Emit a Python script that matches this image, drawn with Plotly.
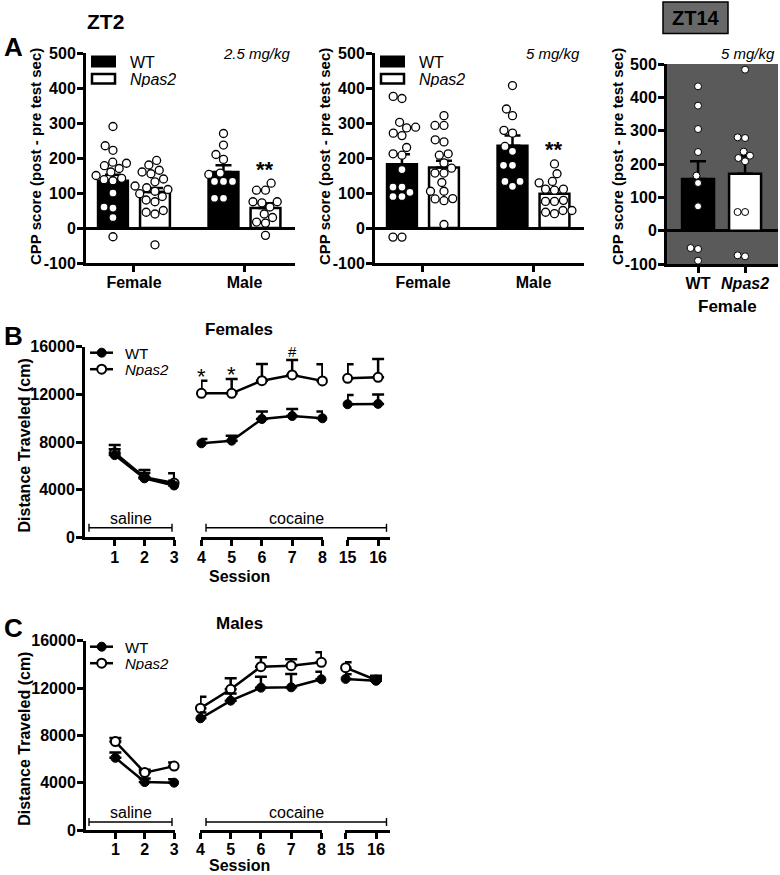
import plotly.graph_objects as go

FONT = "Liberation Sans, Arial, Helvetica, sans-serif"
W, H = 780, 875


def fx(p):
    return p / W


def fy(p):
    return 1 - p / H


# ======================= DATA =======================
cpp_groups = ["Female", "Male"]
zt14_groups = ["WT", "<i>Npas2</i>"]

# ZT2, 2.5 mg/kg  (means, SEM, individual points)
low_wt_mean = [135, 160]
low_wt_sem = [17, 19]
low_np_mean = [103, 57]
low_np_sem = [11, 14]
low_wt_female = [290, 235, 222, 188, 185, 178, 170, 160, 150, 142, 138, 135, 100, 60, 57, 30, -25]
low_np_female = [193, 180, 165, 160, 155, 140, 132, 120, 115, 110, 105, 98, 90, 80, 75, 50, 45, 40, -48]
low_wt_male = [270, 237, 210, 196, 157, 153, 133, 133, 133, 85, 85]
low_np_male = [128, 108, 108, 75, 75, 72, 60, 40, 30, 17, 14, -21]

# ZT2, 5 mg/kg
high_wt_mean = [182, 235]
high_wt_sem = [29, 29]
high_np_mean = [173, 98]
high_np_sem = [19, 13]
high_wt_female = [376, 370, 302, 288, 286, 271, 264, 230, 212, 208, 167, 117, 117, 102, 90, 90, -26, -26]
high_np_female = [321, 293, 293, 252, 246, 212, 208, 186, 171, 157, 157, 130, 105, 105, 84, 83, 78, 10]
high_wt_male = [407, 340, 321, 279, 271, 233, 219, 179, 179, 133, 133, 119]
high_np_male = [183, 155, 133, 129, 111, 108, 111, 79, 76, 76, 50, 45, 50, 41]

# ZT14, 5 mg/kg, females
zt14_mean = [155, 171]
zt14_sem = [53, 52]
zt14_wt_pts = [433, 375, 305, 236, 165, 143, 73, -52, -55, -90]
zt14_np_pts = [483, 278, 280, 225, 237, 218, 208, 56, 56, -77, -74]

# Locomotion (distance traveled, cm)
session_blocks = [[1, 2, 3], [4, 5, 6, 7, 8], [15, 16]]
fem_wt_mean = [6900, 4950, 4350, 7890, 8110, 9930, 10180, 9990, 11170, 11200]
fem_wt_sem = [500, 450, 400, 360, 420, 620, 590, 560, 780, 790]
fem_np_mean = [7100, 5050, 4550, 12090, 12090, 13150, 13630, 13130, 13350, 13430]
fem_np_sem = [650, 600, 820, 1060, 1200, 1400, 1260, 1390, 1170, 1540]
mal_wt_mean = [6100, 4050, 4000, 9440, 10930, 12030, 12060, 12740, 12770, 12620]
mal_wt_sem = [440, 300, 300, 500, 600, 930, 1130, 640, 400, 250]
mal_np_mean = [7470, 4850, 5400, 10290, 11890, 13800, 13890, 14170, 13720, 12680]
mal_np_sem = [300, 250, 300, 980, 930, 800, 540, 850, 450, 350]

cpp_ticks = [-100, 0, 100, 200, 300, 400, 500]
dist_ticks = [0, 4000, 8000, 12000, 16000]

# ======================= HELPERS =======================
TICKFONT = dict(family=FONT, size=16, color="black", weight="bold")


def swarm(values, center, xscale, yscale, d):
    """Greedy beeswarm: returns x positions (data units) for dots."""
    placed = []
    xs = [0.0] * len(values)
    order = sorted(range(len(values)), key=lambda i: values[i])
    for i in order:
        y = values[i] * yscale
        cands = [0.0]
        for (px, py) in placed:
            dy = y - py
            if abs(dy) < d:
                dx = (d * d - dy * dy) ** 0.5
                cands += [px + dx, px - dx]
        cands.sort(key=lambda c: (abs(c), c))
        chosen = 0.0
        for c in cands:
            if all((c - px) ** 2 + (y - py) ** 2 >= d * d - 1e-6 for px, py in placed):
                chosen = c
                break
        placed.append((chosen, y))
        xs[i] = center + chosen / xscale
    return xs


def yaxis(top, bottom, rng, ticks, anchor, zero=False):
    return dict(domain=[fy(bottom), fy(top)], range=rng, tickvals=ticks,
                ticktext=[str(t) for t in ticks], anchor=anchor, automargin=False,
                showline=True, linewidth=3, linecolor="black", ticks="outside", ticklen=6,
                tickwidth=3, tickcolor="black", showgrid=False, zeroline=zero,
                zerolinecolor="black", zerolinewidth=3, tickfont=TICKFONT, fixedrange=True,
                ticklabelstandoff=-2)


def xaxis(left, right, rng, tickvals, ticktext, anchor):
    return dict(domain=[fx(left), fx(right)], range=rng, tickvals=tickvals, ticktext=ticktext,
                anchor=anchor, automargin=False, showline=True, linewidth=3, linecolor="black",
                ticks="outside", ticklen=6, tickwidth=3, tickcolor="black", showgrid=False,
                zeroline=False, tickfont=TICKFONT, fixedrange=True, ticklabelstandoff=-3)


fig = go.Figure()
annotations = []
shapes = []


def ann(text, x, y, size=15, bold=False, italic=False, angle=0, xanchor="center", **kw):
    d = dict(text=text, x=fx(x), y=fy(y), xref="paper", yref="paper", showarrow=False,
             xanchor=xanchor, yanchor="middle", textangle=angle,
             font=dict(family=FONT, size=size, color="black",
                       weight="bold" if bold else "normal",
                       style="italic" if italic else "normal"))
    d.update(kw)
    annotations.append(d)


# ======================= PANEL A (ZT2) =======================
A_TOP, A_BOT = 53, 263
A_RANGE = [-100, 500]
ax_rng = [-0.434, 1.457]
bar_off, bar_w = 0.19, 0.27

cpp_panels = [
    ("x", "y", 86, 295, low_wt_mean, low_wt_sem, low_np_mean, low_np_sem,
     [low_wt_female, low_wt_male], [low_np_female, low_np_male], "2.5 mg/kg"),
    ("x2", "y2", 375, 584, high_wt_mean, high_wt_sem, high_np_mean, high_np_sem,
     [high_wt_female, high_wt_male], [high_np_female, high_np_male], "5 mg/kg"),
]
layout_axes = {}
for i, (xa, ya, left, right, wm, ws, nm, ns, wpts, npts, dose) in enumerate(cpp_panels):
    xid = "xaxis" if i == 0 else "xaxis2"
    yid = "yaxis" if i == 0 else "yaxis2"
    layout_axes[xid] = xaxis(left, right, ax_rng, list(range(len(cpp_groups))), cpp_groups, ya)
    layout_axes[yid] = yaxis(A_TOP, A_BOT, A_RANGE, cpp_ticks, xa, zero=True)
    xscale = (right - left) / (ax_rng[1] - ax_rng[0])
    yscale = (A_BOT - A_TOP) / (A_RANGE[1] - A_RANGE[0])
    wx = [g - bar_off for g in range(len(cpp_groups))]
    nx = [g + bar_off for g in range(len(cpp_groups))]
    fig.add_trace(go.Bar(x=wx, y=wm, width=bar_w, xaxis=xa, yaxis=ya,
                         marker=dict(color="black", line=dict(color="black", width=2.5)),
                         error_y=dict(type="data", array=ws, arrayminus=[0] * len(ws), symmetric=False,
                                      color="black", thickness=2.5, width=8)))
    fig.add_trace(go.Bar(x=nx, y=nm, width=bar_w, xaxis=xa, yaxis=ya,
                         marker=dict(color="white", line=dict(color="black", width=2.5)),
                         error_y=dict(type="data", array=ns, arrayminus=[0] * len(ns), symmetric=False,
                                      color="black", thickness=2.5, width=8)))
    for g in range(len(cpp_groups)):
        for pts, cx in ((wpts[g], wx[g]), (npts[g], nx[g])):
            fig.add_trace(go.Scatter(x=swarm(pts, cx, xscale, yscale, 9.0), y=pts, mode="markers",
                                     xaxis=xa, yaxis=ya, cliponaxis=False,
                                     marker=dict(size=8, color="white", line=dict(color="black", width=1.3))))
    # significance above male Npas2
    annotations.append(dict(text="**", x=nx[1], y=max(npts[1]), xref=xa, yref=ya, showarrow=False,
                            yanchor="middle", yshift=14,
                            font=dict(family=FONT, size=22, color="black", weight="bold")))
    # legend
    lx = left + 6
    shapes.append(dict(type="rect", xref="paper", yref="paper", x0=fx(lx), x1=fx(lx + 23),
                       y0=fy(66.5), y1=fy(56.5), fillcolor="black", line=dict(color="black", width=2)))
    shapes.append(dict(type="rect", xref="paper", yref="paper", x0=fx(lx), x1=fx(lx + 23),
                       y0=fy(83.5), y1=fy(74), fillcolor="white", line=dict(color="black", width=2.5)))
    ann("WT", lx + 36, 61.5, size=16, xanchor="left", height=16)
    ann("Npas2", lx + 36, 79, size=16, italic=True, xanchor="left", height=16)
    ann(dose, right - 2, 53, size=15, italic=True, xanchor="right")
    ann("CPP score (post - pre test sec)", left - 51, 157, size=15, bold=True, angle=-90)

# ======================= PANEL A (ZT14) =======================
R_TOP, R_BOT = 64, 264
r_rng = [-0.66, 1.70]
r_left, r_right = 667, 778
layout_axes["xaxis3"] = xaxis(r_left, r_right, r_rng, [0, 1], zt14_groups, "y3")
layout_axes["yaxis3"] = yaxis(R_TOP, R_BOT, A_RANGE, cpp_ticks, "x3", zero=True)
shapes.append(dict(type="rect", xref="x3 domain", yref="y3 domain", x0=0, x1=1, y0=0, y1=1,
                   fillcolor="#5a5a5a", line=dict(width=0), layer="below"))
fig.add_trace(go.Bar(x=[0, 1], y=zt14_mean, width=0.68, xaxis="x3", yaxis="y3",
                     marker=dict(color=["black", "white"], line=dict(color="black", width=2.5)),
                     error_y=dict(type="data", array=zt14_sem, arrayminus=[0, 0], symmetric=False,
                                  color="black", thickness=2.5, width=8)))
r_xscale = (r_right - r_left) / (r_rng[1] - r_rng[0])
r_yscale = (R_BOT - R_TOP) / (A_RANGE[1] - A_RANGE[0])
for pts, cx in ((zt14_wt_pts, 0), (zt14_np_pts, 1)):
    fig.add_trace(go.Scatter(x=swarm(pts, cx, r_xscale, r_yscale, 7.5), y=pts, mode="markers",
                             xaxis="x3", yaxis="y3", cliponaxis=False,
                             marker=dict(size=7, color="white", line=dict(color="black", width=1))))
shapes.append(dict(type="rect", xref="paper", yref="paper", x0=fx(663), x1=fx(728), y0=fy(33.5), y1=fy(2),
                   fillcolor="#686868", line=dict(color="black", width=1.5)))
ann("ZT14", 695.5, 18, size=20, bold=True)
ann("5 mg/kg", 777, 53, size=15, italic=True, xanchor="right")
ann("CPP score (post - pre test sec)", 617, 157, size=15, bold=True, angle=-90)
ann("Female", 727, 306.5, size=17, bold=True)

ann("ZT2", 106, 21, size=21, bold=True)
ann("A", 14, 46.5, size=26, bold=True)

# ======================= PANELS B & C =======================
seg_specs_B = [(85, 175, [0.0, 3.03]), (201, 323, [3.985, 8.02]), (347, 390, [14.98, 16.39])]
seg_specs_C = [(86, 175, [0.0, 3.03]), (200, 322, [3.985, 8.02]), (345, 390, [14.98, 16.46])]

loco_panels = [
    ("B", "Females", 346.7, 537.3, [4, 5, 6], "y4", seg_specs_B, fem_wt_mean, fem_wt_sem, fem_np_mean, fem_np_sem),
    ("C", "Males", 640.7, 830.0, [7, 8, 9], "y5", seg_specs_C, mal_wt_mean, mal_wt_sem, mal_np_mean, mal_np_sem),
]

for label, title, top, bot, xnums, yref, segs, wm, ws, nm, ns in loco_panels:
    ynum = yref[1:]
    layout_axes["yaxis" + ynum] = yaxis(top, bot, [0, 16000], dist_ticks, "x%d" % xnums[0])
    start = 0
    for k, (block, (sl, sr, srng)) in enumerate(zip(session_blocks, segs)):
        xa = "x%d" % xnums[k]
        layout_axes["xaxis%d" % xnums[k]] = xaxis(sl, sr, srng, block, [str(s) for s in block], yref)
        n = len(block)
        for mean, sem, mk in ((nm, ns, dict(size=9, color="white", line=dict(color="black", width=2))),
                              (wm, ws, dict(size=9, color="black", line=dict(color="black", width=1)))):
            fig.add_trace(go.Scatter(x=block, y=mean[start:start + n], xaxis=xa, yaxis=yref,
                                     mode="lines+markers", cliponaxis=False,
                                     line=dict(color="black", width=2.5), marker=mk,
                                     error_y=dict(type="data", array=sem[start:start + n],
                                                  arrayminus=[0] * n, symmetric=False,
                                                  color="black", thickness=2.5, width=6)))
        start += n

    ann(label, 14, top - 11 if label == "B" else top - 12.5, size=26, bold=True)
    ann(title, 239, top - 17.5, size=17, bold=True)
    ann("Session", 239, min(bot + 39.5, 865), size=16, bold=True, height=15)
    ann("Distance Traveled (cm)", 24.5, (top + bot) / 2 + 4, size=16, bold=True, angle=-90)

    # legend
    for j, (name, y_off, fillc) in enumerate((("WT", 6.0, "black"), ("Npas2", 22.5, "white"))):
        yy = top + y_off
        shapes.append(dict(type="line", xref="paper", yref="paper", x0=fx(90), x1=fx(113), y0=fy(yy), y1=fy(yy),
                           line=dict(color="black", width=2.5)))
        shapes.append(dict(type="circle", xref="paper", yref="paper", x0=fx(97.2), x1=fx(106.2),
                           y0=fy(yy + 4.5), y1=fy(yy - 4.5), fillcolor=fillc,
                           line=dict(color="black", width=2 if fillc == "white" else 1)))
        ann(name, 122.7, yy, size=15, italic=(name == "Npas2"), xanchor="left", height=14)

    # saline / cocaine brackets
    by = bot - 9.5 if label == "B" else bot - 8
    for (x0, x1, txt, tx) in ((89, 172, "saline", 131), (206, 386.5, "cocaine", 296)):
        shapes.append(dict(type="line", xref="paper", yref="paper", x0=fx(x0), x1=fx(x1), y0=fy(by), y1=fy(by),
                           line=dict(color="black", width=1.4)))
        for xe in (x0, x1):
            shapes.append(dict(type="line", xref="paper", yref="paper", x0=fx(xe), x1=fx(xe),
                               y0=fy(by - 4), y1=fy(by + 4), line=dict(color="black", width=1.4)))
        ann(txt, tx, by - 9.5, size=16, height=15)

# significance marks, females cocaine (panel B)
for s, sym, size, shift in ((4, "*", 22, 4), (5, "*", 22, 4), (7, "#", 15, 8)):
    idx = sum(session_blocks, []).index(s)
    annotations.append(dict(text=sym, x=s, y=fem_np_mean[idx] + fem_np_sem[idx], xref="x5", yref="y4",
                            showarrow=False, yanchor="middle", yshift=shift,
                            font=dict(family=FONT, size=size, color="black")))

fig.update_layout(
    width=W, height=H, autosize=False,
    margin=dict(l=0, r=0, t=0, b=0, pad=0, autoexpand=False),
    paper_bgcolor="white", plot_bgcolor="white",
    showlegend=False, barmode="overlay",
    annotations=annotations, shapes=shapes,
    **layout_axes,
)

# remove the browser's default 8px page margin so the figure fills the window exactly
fig.write_html("out.html", config={"displayModeBar": False},
               post_script="document.body.style.margin='0px';")
